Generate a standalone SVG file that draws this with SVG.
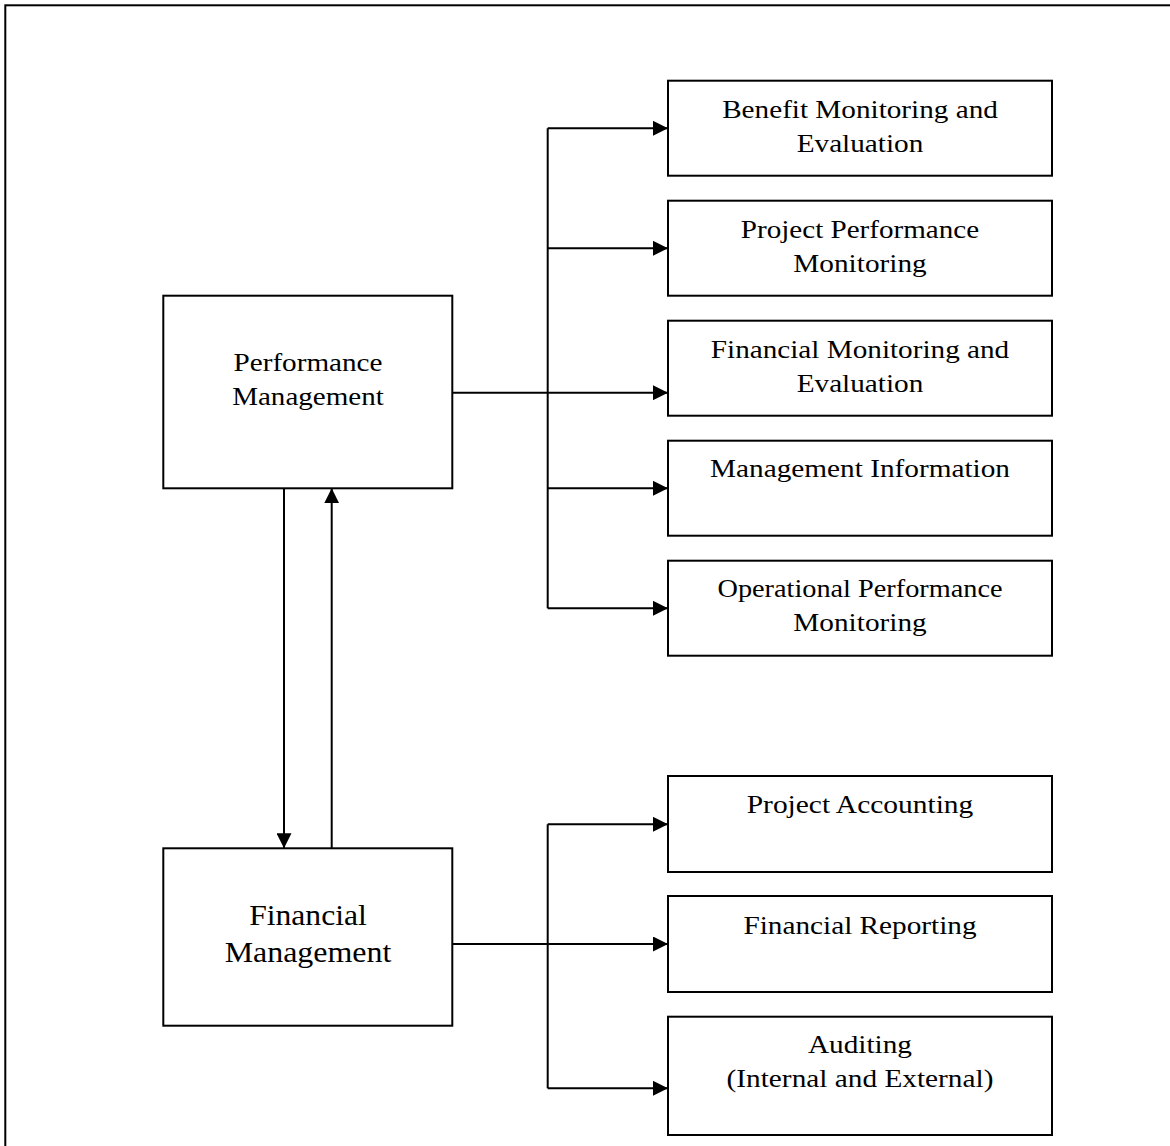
<svg xmlns="http://www.w3.org/2000/svg" width="1170" height="1146" viewBox="0 0 1170 1146">
<style>
.box{fill:#fff;stroke:#000;stroke-width:2}
.t{font-family:"Liberation Serif","Times New Roman",serif;font-size:26px;fill:#000;text-anchor:middle}
.tl{font-family:"Liberation Serif","Times New Roman",serif;font-size:29px;fill:#000;text-anchor:middle}
.c{fill:none;stroke:#000;stroke-width:2}
</style>
<defs>
<marker id="arr" viewBox="0 0 15 15" refX="15" refY="7.5" markerWidth="15" markerHeight="15" markerUnits="userSpaceOnUse" orient="auto">
<path d="M0,0 L15,7.5 L0,15 z" fill="#000"/>
</marker>
</defs>
<rect x="0" y="0" width="1170" height="1146" fill="#fff"/>
<rect id="frame" x="5.3" y="5.3" width="1200" height="1200" fill="none" stroke="#000" stroke-width="2"/>

<g id="connectors">
<path class="c" d="M452.3,392.7 H668" marker-end="url(#arr)"/>
<path class="c" d="M547.7,128.3 V608.3"/>
<path class="c" d="M547.7,128.3 H668" marker-end="url(#arr)"/>
<path class="c" d="M547.7,248.3 H668" marker-end="url(#arr)"/>
<path class="c" d="M547.7,488.3 H668" marker-end="url(#arr)"/>
<path class="c" d="M547.7,608.3 H668" marker-end="url(#arr)"/>
<path class="c" d="M452.3,944 H668" marker-end="url(#arr)"/>
<path class="c" d="M547.7,824.3 V1088.3"/>
<path class="c" d="M547.7,824.3 H668" marker-end="url(#arr)"/>
<path class="c" d="M547.7,1088.3 H668" marker-end="url(#arr)"/>
<path class="c" d="M284,488.3 V848.3" marker-end="url(#arr)"/>
<path class="c" d="M331.7,848.3 V488.3" marker-end="url(#arr)"/>
</g>

<g id="performance-management">
<rect class="box" x="163.3" y="295.7" width="289" height="192.6"/>
<text class="t" x="308" y="370.7" textLength="149" lengthAdjust="spacingAndGlyphs">Performance</text>
<text class="t" x="308" y="405" textLength="151.7" lengthAdjust="spacingAndGlyphs">Management</text>
</g>

<g id="financial-management">
<rect class="box" x="163.3" y="848.3" width="289" height="177.4"/>
<text class="tl" x="308" y="925" textLength="117.7" lengthAdjust="spacingAndGlyphs">Financial</text>
<text class="tl" x="308" y="961.7" textLength="166.7" lengthAdjust="spacingAndGlyphs">Management</text>
</g>

<g id="benefit-monitoring">
<rect class="box" x="668" y="80.7" width="384" height="95"/>
<text class="t" x="860" y="117.5" textLength="275.7" lengthAdjust="spacingAndGlyphs">Benefit Monitoring and</text>
<text class="t" x="860" y="151.5" textLength="126.7" lengthAdjust="spacingAndGlyphs">Evaluation</text>
</g>

<g id="project-performance">
<rect class="box" x="668" y="200.7" width="384" height="95"/>
<text class="t" x="860" y="238" textLength="238.3" lengthAdjust="spacingAndGlyphs">Project Performance</text>
<text class="t" x="860" y="272" textLength="133.3" lengthAdjust="spacingAndGlyphs">Monitoring</text>
</g>

<g id="financial-monitoring">
<rect class="box" x="668" y="320.7" width="384" height="95"/>
<text class="t" x="860" y="358" textLength="298.4" lengthAdjust="spacingAndGlyphs">Financial Monitoring and</text>
<text class="t" x="860" y="392" textLength="126.7" lengthAdjust="spacingAndGlyphs">Evaluation</text>
</g>

<g id="management-information">
<rect class="box" x="668" y="440.7" width="384" height="95"/>
<text class="t" x="860" y="477" textLength="300" lengthAdjust="spacingAndGlyphs">Management Information</text>
</g>

<g id="operational-performance">
<rect class="box" x="668" y="560.7" width="384" height="95"/>
<text class="t" x="860" y="597" textLength="285" lengthAdjust="spacingAndGlyphs">Operational Performance</text>
<text class="t" x="860" y="631" textLength="133.3" lengthAdjust="spacingAndGlyphs">Monitoring</text>
</g>

<g id="project-accounting">
<rect class="box" x="668" y="776" width="384" height="96"/>
<text class="t" x="860" y="813.3" textLength="226.6" lengthAdjust="spacingAndGlyphs">Project Accounting</text>
</g>

<g id="financial-reporting">
<rect class="box" x="668" y="896" width="384" height="96"/>
<text class="t" x="860" y="934" textLength="233.1" lengthAdjust="spacingAndGlyphs">Financial Reporting</text>
</g>

<g id="auditing">
<rect class="box" x="668" y="1016.7" width="384" height="118.3"/>
<text class="t" x="860" y="1053.3" textLength="104" lengthAdjust="spacingAndGlyphs">Auditing</text>
<text class="t" x="860" y="1086.7" textLength="266.9" lengthAdjust="spacingAndGlyphs">(Internal and External)</text>
</g>
</svg>
